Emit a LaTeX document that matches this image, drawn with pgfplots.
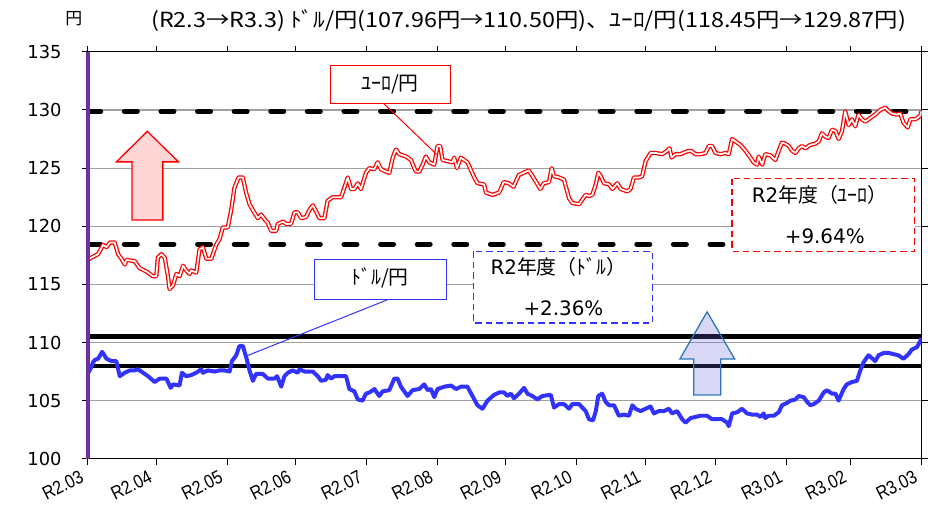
\documentclass[border=0pt]{standalone}
\usepackage{fontspec}
\setmainfont{DejaVu Sans}
\newfontfamily\jp{Noto Sans CJK JP}
\newfontfamily\jpw[FakeStretch=1.12]{Noto Sans CJK JP}
\newfontfamily\libn[FakeStretch=0.85]{Liberation Sans}
\usepackage{pgfplots}
\pgfplotsset{compat=1.18}
\definecolor{eur}{RGB}{255,0,0}
\definecolor{usd}{RGB}{51,51,255}
\definecolor{purp}{RGB}{112,48,160}
\definecolor{gridc}{RGB}{160,160,160}
\definecolor{arrowblue}{RGB}{46,117,182}
\definecolor{pinkfill}{RGB}{255,213,213}
\definecolor{lavfill}{RGB}{100,100,220}
\begin{document}
\begin{tikzpicture}
\begin{axis}[
  at={(0,0)}, anchor=south west, scale only axis,
  width=836bp, height=408bp,
  xmin=0, xmax=365, ymin=100, ymax=135,
  ytick={100,105,...,135},
  ymajorgrids, major grid style={gridc, line width=1.2bp},
  xtick={0,30,61,91,122,153,183,214,244,275,306,334,365},
  xticklabels={R2.03,R2.04,R2.05,R2.06,R2.07,R2.08,R2.09,R2.10,R2.11,R2.12,R3.01,R3.02,R3.03},
  tick align=outside, major tick length=6bp,
  every tick/.style={black, line width=1bp},
  axis line style={black, line width=1.2bp},
  xticklabel style={font=\libn\fontsize{19}{19}\selectfont, rotate=27, anchor=north east, inner sep=0bp, xshift=-10bp, yshift=0bp},
  yticklabel style={font=\fontsize{18}{18}\selectfont, anchor=east, inner sep=0bp, xshift=-20bp},
  /pgf/number format/assume math mode=true,
]
% reference lines
\addplot[black, line width=5bp, dash pattern=on 13bp off 23.7bp, line cap=round] coordinates {(0,129.87) (365,129.87)};
\addplot[black, line width=5bp, dash pattern=on 13bp off 23.7bp, line cap=round] coordinates {(0,118.45) (365,118.45)};
\addplot[black, line width=4.5bp] coordinates {(0,110.50) (365,110.50)};
\addplot[black, line width=4.5bp] coordinates {(0,107.96) (365,107.96)};
% EUR/JPY
\addplot[eur, line width=1.3bp, double=white, double distance=1.7bp, line join=round] coordinates {
(0,117.1)(1.6,117.3)(4.5,117.6)(6.7,118.4)(8.2,118.2)(9.7,118.6)(11.8,118.6)(13.3,117.6)(14.8,117.2)(16.2,116.7)(16.9,117.1)(20.5,117.0)(22.7,116.4)(25.7,116.1)(28.5,115.7)(30.0,115.7)(30.7,117.3)(32.2,117.6)(33.7,117.3)(35.1,115.7)(35.8,114.6)(37.3,114.9)(38.8,115.9)(40.2,115.7)(41.7,116.6)(43.1,116.2)(44.6,115.9)(45.3,116.2)(47.5,116.0)(48.9,118.0)(50.4,118.2)(51.9,117.2)(54.1,117.2)(56.2,118.4)(57.7,118.9)(59.1,119.9)(61.3,119.9)(62.8,121.4)(64.2,123.3)(66.0,124.2)(67.9,124.2)(69.3,122.9)(70.8,121.9)(72.2,121.4)(74.4,120.7)(75.9,121.0)(77.4,120.6)(78.8,120.3)(80.3,119.6)(82.5,119.6)(83.2,120.2)(85.4,120.4)(86.9,120.2)(89.0,120.2)(90.5,121.2)(91.9,121.2)(93.4,120.7)(95.6,120.8)(97.0,121.4)(98.5,121.8)(99.9,121.3)(101.4,120.7)(103.6,120.7)(105.0,122.2)(107.2,122.5)(110.9,122.5)(112.3,123.3)(113.8,124.2)(115.3,123.2)(116.7,123.2)(118.2,123.7)(119.6,123.2)(121.8,124.6)(123.3,125.0)(125.4,124.9)(126.9,125.5)(128.4,124.9)(130.5,124.7)(132.0,124.6)(133.5,125.9)(134.9,126.6)(136.4,126.2)(139.3,126.0)(141.5,125.7)(143.6,124.7)(145.1,124.7)(146.6,125.3)(148.0,126.0)(149.5,125.5)(151.7,125.3)(153.1,126.9)(154.3,126.9)(155.3,125.7)(157.5,125.6)(159.7,125.5)(160.4,125.9)(161.6,125.0)(163.3,125.9)(166.2,125.5)(169.2,124.2)(170.6,123.7)(173.5,123.6)(174.3,122.9)(177.2,122.7)(180.1,122.9)(182.1,123.8)(184.2,123.7)(186.4,123.4)(188.7,124.4)(190.8,124.6)(193.0,124.8)(194.4,124.4)(196.6,123.7)(198.1,123.2)(199.6,123.7)(201.9,123.8)(203.1,125.0)(204.1,124.3)(206.3,124.2)(208.5,124.0)(210.7,122.4)(212.1,122.0)(215.1,121.9)(216.5,122.3)(218.0,122.7)(219.4,122.6)(220.9,122.7)(222.4,123.6)(223.5,124.6)(224.6,124.3)(226.0,123.7)(228.2,123.6)(229.7,123.2)(231.8,123.7)(233.3,123.2)(236.2,123.0)(237.6,123.2)(239.1,124.2)(241.3,124.2)(242.7,124.3)(244.2,125.6)(246.4,126.3)(248.6,126.3)(251.5,126.2)(253.7,126.5)(254.7,126.7)(255.6,125.9)(257.3,126.2)(259.5,126.2)(261.7,126.4)(263.9,126.5)(266.1,126.2)(268.2,126.2)(270.4,126.3)(271.9,126.9)(273.3,126.9)(274.8,126.3)(277.0,126.2)(279.2,126.3)(280.6,126.2)(282.1,127.5)(283.5,127.3)(285.7,127.0)(287.9,126.5)(290.1,125.9)(291.5,125.5)(293.0,125.3)(293.7,126.0)(295.2,125.3)(296.6,126.2)(298.8,126.1)(301.0,125.7)(302.5,126.5)(303.9,127.2)(305.4,127.1)(306.9,126.9)(308.3,126.5)(309.8,126.3)(311.2,126.7)(312.7,126.9)(314.1,126.7)(316.3,127.0)(318.5,127.1)(320.0,127.3)(321.4,128.0)(322.9,127.7)(324.3,127.6)(325.8,128.3)(327.3,128.2)(328.7,127.5)(330.2,128.2)(331.6,129.9)(333.1,128.7)(334.5,129.2)(336.0,128.6)(337.4,129.6)(338.9,129.2)(340.4,129.0)(342.5,129.3)(344.7,129.6)(346.9,130.0)(349.1,130.2)(350.6,129.9)(352.0,129.7)(354.2,129.6)(355.7,129.7)(357.1,128.9)(359.0,128.5)(360.1,129.2)(362.3,129.2)(364.4,129.5)(365,129.9)
};
% USD/JPY
\addplot[usd, line width=4bp, line join=round] coordinates {
(0,107.3)(1.6,107.9)(2.3,108.3)(3.1,108.5)(4.5,108.6)(6.3,109.2)(8.2,108.6)(10.4,108.4)(12.5,108.4)(14.0,107.1)(16.2,107.4)(18.4,107.6)(20.5,107.6)(22.0,107.7)(24.2,107.4)(26.4,107.1)(29.3,106.6)(31.5,106.9)(34.4,106.9)(36.3,106.1)(37.3,106.4)(40.2,106.3)(41.2,107.4)(43.1,107.1)(45.3,107.2)(47.5,107.4)(49.7,107.7)(50.4,107.4)(52.6,107.6)(55.5,107.5)(57.7,107.6)(59.9,107.6)(62.1,107.5)(63.1,108.4)(65.0,108.9)(66.4,109.7)(67.9,109.7)(69.4,108.7)(70.8,107.6)(72.3,106.7)(73.7,107.3)(76.6,107.3)(78.8,106.9)(81.7,106.9)(82.9,107.1)(84.7,106.2)(86.1,107.1)(87.6,107.4)(89.7,107.6)(91.9,107.4)(92.7,107.7)(94.9,107.5)(98.5,107.5)(100.7,107.1)(102.2,106.7)(104.3,106.8)(105.0,107.2)(106.5,106.9)(108.0,107.1)(110.9,107.1)(113.1,107.1)(114.5,106.0)(116.7,105.8)(118.2,105.1)(120.3,105.0)(121.8,105.6)(123.3,105.7)(125.5,106.0)(127.6,105.4)(129.1,105.8)(132.0,105.9)(134.2,106.9)(135.6,106.9)(137.1,106.2)(140.0,105.4)(142.2,105.9)(145.1,106.0)(147.3,106.4)(148.8,105.9)(150.2,106.0)(151.7,105.3)(153.1,106.0)(156.1,106.2)(159.0,106.3)(161.2,106.0)(163.4,106.2)(166.2,106.2)(168.4,105.4)(170.6,104.6)(172.8,104.3)(175.0,105.0)(177.9,105.5)(180.1,105.7)(182.3,105.7)(183.7,105.4)(185.2,105.6)(186.6,105.2)(188.8,105.6)(191.0,106.1)(192.5,105.6)(194.6,105.4)(196.8,105.1)(199.0,105.4)(202.7,105.5)(204.1,104.4)(206.3,104.7)(208.5,104.7)(210.7,104.3)(212.1,104.7)(215.1,104.7)(216.5,104.4)(218.0,104.1)(219.4,103.4)(221.2,103.3)(222.4,104.1)(223.5,105.4)(225.2,105.6)(226.7,104.9)(228.2,104.6)(230.4,104.6)(232.5,103.7)(234.7,103.8)(236.9,103.7)(238.4,104.6)(239.8,104.3)(242.0,104.1)(244.2,104.3)(246.4,104.5)(247.8,103.9)(250.0,104.1)(252.2,104.1)(254.4,104.3)(255.8,103.9)(258.0,104.1)(260.2,103.4)(261.7,103.1)(263.9,103.5)(266.1,103.6)(268.2,103.7)(271.1,103.7)(273.3,103.4)(275.5,103.4)(277.7,103.4)(279.9,103.1)(280.6,102.8)(282.1,103.9)(284.3,104.0)(286.4,104.3)(288.6,103.9)(290.8,103.8)(293.0,103.8)(294.5,103.6)(295.9,103.9)(296.6,103.5)(298.1,103.7)(300.3,103.7)(302.5,104.0)(303.9,104.6)(306.1,104.8)(307.6,105.0)(309.8,105.1)(311.2,105.4)(313.4,105.3)(314.9,104.9)(316.3,104.6)(317.8,104.7)(320.0,105.0)(322.2,105.7)(323.6,105.9)(325.8,105.6)(327.3,105.6)(328.7,105.0)(330.9,106.0)(332.3,106.4)(334.5,106.6)(336.7,106.7)(338.2,107.6)(339.6,108.3)(341.8,108.9)(343.0,108.7)(344.7,108.4)(346.2,108.9)(348.4,109.1)(350.6,109.1)(352.7,109.0)(354.9,108.9)(357.1,108.6)(359.3,109.0)(360.8,109.4)(363.0,109.6)(364.4,110.1)(365.0,110.4)
};
\end{axis}
% left axis in purple
\draw[purp, line width=4bp] (0,0) -- (0,408bp);
% annotations in image pixel coordinates
\begin{scope}[x=1bp, y=-1bp, shift={(-88bp,460bp)}]
\path[use as bounding box] (0,0) rectangle (928,509);
\node[font=\jp\fontsize{17}{17}\selectfont] at (74,19) {円};
\node[font=\jpw\fontsize{21}{21}\selectfont, anchor=base] at (530,28) {(R2.3→R3.3) ﾄﾞﾙ/円(107.96円→110.50円)、ﾕｰﾛ/円(118.45円→129.87円)};
% red arrow
\draw[eur, line width=1.3bp, fill=pinkfill] (147.7,131.7) -- (179,162.3) -- (163.3,162.3) -- (163.3,220.7) -- (132.3,220.7) -- (132.3,162.3) -- (116.7,162.3) -- cycle;
% blue arrow
\draw[arrowblue, line width=1.3bp, fill=lavfill, fill opacity=0.25] (709,312.7) -- (736.7,360) -- (722.7,360) -- (722.7,396) -- (695.7,396) -- (695.7,360) -- (681.7,360) -- cycle;
% EUR callout
\draw[eur, line width=1bp] (385,104) -- (438,155);
\draw[eur, line width=1.2bp, fill=white] (331,66) rectangle (452,104);
\node[font=\jp\fontsize{20}{20}\selectfont] at (391,85) {ﾕｰﾛ/円};
% USD callout
\draw[usd, line width=1bp] (390,300) -- (247,357);
\draw[usd, line width=1.2bp, fill=white] (315,260) rectangle (448,300);
\node[font=\jp\fontsize{20}{20}\selectfont] at (381,279) {ﾄﾞﾙ/円};
% R2 USD box
\draw[usd, line width=1.3bp, dash pattern=on 6.5bp off 4bp, fill=white] (475,252) rectangle (654,324);
\node[font=\fontsize{20}{20}\selectfont] at (560,268) {R2{\jp 年度（ﾄﾞﾙ）}};
\node[font=\fontsize{20}{20}\selectfont] at (565,309) {+2.36\%};
% R2 EUR box
\draw[eur, line width=1.3bp, dash pattern=on 6.5bp off 4bp, fill=white] (734,179) rectangle (917,252);
\node[font=\fontsize{20}{20}\selectfont] at (822,195) {R2{\jp 年度（ﾕｰﾛ）}};
\node[font=\fontsize{20}{20}\selectfont] at (827,237) {+9.64\%};
\end{scope}
\end{tikzpicture}
\end{document}
